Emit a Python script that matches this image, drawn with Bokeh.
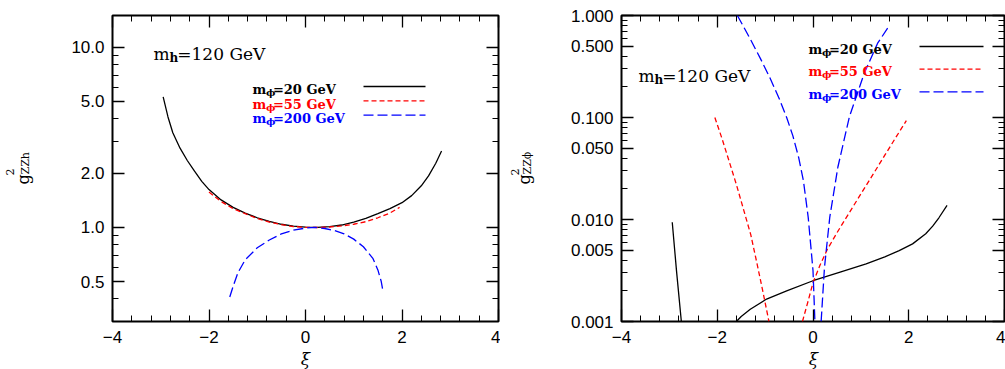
import math
from bokeh.plotting import figure
from bokeh.layouts import row, column
from bokeh.models import (FixedTicker, Label, LinearAxis, LogAxis,
                          CustomJSTickFormatter, PrintfTickFormatter)
from bokeh.embed import file_html
from bokeh.resources import INLINE

# ---------------- data ----------------
# left panel: g^2_ZZh vs xi
xi_zzh_20 = [-2.95, -2.85, -2.75, -2.6, -2.45, -2.3, -2.15, -2.0, -1.75, -1.5, -1.25, -1.0,
             -0.75, -0.5, -0.25, 0.0, 0.25, 0.5, 0.75, 1.0, 1.25, 1.5, 1.75, 2.0, 2.2, 2.4,
             2.55, 2.7, 2.82]
g_zzh_20 = [5.3, 4.1, 3.35, 2.75, 2.35, 2.05, 1.8, 1.62, 1.42, 1.29, 1.2, 1.13,
            1.08, 1.04, 1.015, 1.003, 1.0, 1.01, 1.03, 1.07, 1.12, 1.19, 1.27, 1.37, 1.5, 1.7,
            1.93, 2.27, 2.65]

xi_zzh_55 = [-2.0, -1.75, -1.5, -1.25, -1.0, -0.75, -0.5, -0.25, 0.0, 0.25, 0.5, 0.75, 1.0,
             1.25, 1.5, 1.75, 1.95]
g_zzh_55 = [1.57, 1.39, 1.27, 1.19, 1.12, 1.07, 1.035, 1.01, 1.0, 0.998, 1.004, 1.018, 1.04,
            1.075, 1.13, 1.2, 1.29]

xi_zzh_200 = [-1.57, -1.5, -1.4, -1.25, -1.0, -0.75, -0.5, -0.25, 0.0, 0.2, 0.4, 0.6, 0.8,
              1.0, 1.2, 1.4, 1.5, 1.57, 1.6]
g_zzh_200 = [0.41, 0.47, 0.56, 0.66, 0.77, 0.85, 0.92, 0.965, 0.99, 1.0, 0.985, 0.96, 0.92,
             0.86, 0.78, 0.67, 0.58, 0.5, 0.45]

# right panel: g^2_ZZphi vs xi (each mass has two branches)
xi_zzphi_20a = [-2.94, -2.85, -2.75]
g_zzphi_20a = [0.0094, 0.0031, 0.001]
xi_zzphi_20b = [-1.6, -1.5, -1.31, -0.97, -0.55, 0.0, 0.55, 1.11, 1.5, 1.8, 2.08, 2.355,
                2.5, 2.63, 2.8]
g_zzphi_20b = [0.001, 0.00112, 0.00132, 0.00166, 0.002, 0.00251, 0.00303, 0.00367, 0.0043,
               0.00496, 0.00577, 0.00724, 0.0086, 0.0104, 0.01374]

xi_zzphi_55a = [-2.05, -1.9, -1.75, -1.6, -1.45, -1.3, -1.18, -1.05, -0.92]
g_zzphi_55a = [0.1, 0.062, 0.037, 0.022, 0.0125, 0.0071, 0.0039, 0.002, 0.001]
xi_zzphi_55b = [-0.22, -0.1, 0.0, 0.15, 0.3, 0.5, 0.75, 1.0, 1.25, 1.5, 1.75, 1.95]
g_zzphi_55b = [0.001, 0.0016, 0.0024, 0.0036, 0.0051, 0.0074, 0.0115, 0.0178, 0.0275, 0.0427,
               0.066, 0.093]

xi_zzphi_200a = [-1.58, -1.45, -1.3, -1.1, -0.9, -0.7, -0.55, -0.42, -0.3, -0.2, -0.1, 0.0,
                 0.04]
g_zzphi_200a = [1.0, 0.776, 0.575, 0.38, 0.245, 0.151, 0.1, 0.066, 0.0407, 0.024, 0.0105,
                0.00316, 0.001]
xi_zzphi_200b = [0.17, 0.24, 0.35, 0.52, 0.76, 1.07, 1.35, 1.59]
g_zzphi_200b = [0.001, 0.0034, 0.0105, 0.0327, 0.1016, 0.271, 0.535, 0.79]

mass_labels = ["20", "55", "200"]
series_colors = ["black", "#ff0000", "#0000ff"]
series_dashes = ["solid", "5 3", "10 4"]

x_major = [-4, -2, 0, 2, 4]
x_minor = [-3.6, -3.2, -2.8, -2.4, -1.6, -1.2, -0.8, -0.4, 0.4, 0.8, 1.2, 1.6, 2.4, 2.8, 3.2, 3.6]
yl_major = [0.5, 1.0, 2.0, 5.0, 10.0]
yl_minor = [0.4, 0.6, 0.7, 0.8, 0.9, 3, 4, 6, 7, 8, 9]
yr_major = [0.001, 0.005, 0.01, 0.05, 0.1, 0.5, 1.0]
yr_minor = [0.002, 0.003, 0.004, 0.006, 0.007, 0.008, 0.009,
            0.02, 0.03, 0.04, 0.06, 0.07, 0.08, 0.09,
            0.2, 0.3, 0.4, 0.6, 0.7, 0.8, 0.9]

TICK_FONT = "Liberation Sans"
TEXT_FONT = "DejaVu Serif"
H = 369          # total height
HP = 350         # height of the plotting figures
HB = H - HP      # strip below holding the x-axis title


def mapper(left, right, top, bottom, xr, yr):
    l0, l1 = math.log10(yr[0]), math.log10(yr[1])

    def fx(px):
        return xr[0] + (px - left) / (right - left) * (xr[1] - xr[0])

    def fy(py):
        return 10 ** (l1 - (py - top) / (bottom - top) * (l1 - l0))
    return fx, fy


def style_axis(ax, show):
    ax.axis_line_color = None
    ax.major_tick_in = 12
    ax.major_tick_out = 0
    ax.minor_tick_in = 6
    ax.minor_tick_out = 0
    ax.major_tick_line_color = "black"
    ax.minor_tick_line_color = "black"
    ax.major_tick_line_width = 1.3
    ax.minor_tick_line_width = 1.0
    ax.major_label_text_font = TICK_FONT
    ax.major_label_text_color = "black"
    if show:
        ax.major_label_text_font_size = "17px"
        ax.major_label_standoff = 8
    else:
        ax.major_label_text_font_size = "0px"
        ax.major_label_standoff = 0


def blank(width, height):
    f = figure(width=width, height=height, x_range=(0, width), y_range=(0, height),
               x_axis_type=None, y_axis_type=None, output_backend="svg",
               toolbar_location=None, title=None, min_border=0)
    f.min_border_left = f.min_border_right = f.min_border_top = f.min_border_bottom = 0
    f.outline_line_color = None
    f.grid.visible = False
    return f


def screen_label(f, x, y, text, size, angle=0.0, align="left", baseline="alphabetic",
                 style="normal"):
    f.add_layout(Label(x=x, y=y, x_units="screen", y_units="screen", text=text,
                       text_font=TEXT_FONT, text_font_size=f"{size}px", text_color="black",
                       text_align=align, text_baseline=baseline, angle=angle,
                       angle_units="rad", text_font_style=style))


def make_panel(width, b_left, b_right, y_range, y_major, y_minor, y_fmt):
    p = figure(width=width, height=HP, x_range=(-4, 4), y_range=y_range, y_axis_type="log",
               output_backend="svg", toolbar_location=None, title=None,
               min_border_left=b_left, min_border_right=b_right,
               min_border_top=15, min_border_bottom=HP - 321)
    p.grid.visible = False
    p.outline_line_color = "black"
    p.outline_line_width = 2
    p.outline_line_alpha = 1.0
    xt = FixedTicker(ticks=x_major, minor_ticks=x_minor)
    yt = FixedTicker(ticks=y_major, minor_ticks=y_minor)
    xa = p.xaxis[0]
    ya = p.yaxis[0]
    xa.ticker = xt
    ya.ticker = yt
    xa.formatter = CustomJSTickFormatter(
        code="return tick < 0 ? '\u2212' + String(-tick) : String(tick);")
    ya.formatter = PrintfTickFormatter(format=y_fmt)
    style_axis(xa, True)
    style_axis(ya, True)
    xa.major_label_standoff = 9
    top = LinearAxis(ticker=xt, formatter=CustomJSTickFormatter(code="return '';"))
    right = LogAxis(ticker=yt, formatter=CustomJSTickFormatter(code="return '';"))
    style_axis(top, False)
    style_axis(right, False)
    p.add_layout(top, "above")
    p.add_layout(right, "right")
    return p


def xi_strip(width, xc):
    # this strip's frame is aligned with the panel's frame above it (column layout),
    # so xc is measured from the panel frame's left edge
    b = blank(width, HB)
    screen_label(b, xc, HB - 8, "\u03be", 17, align="center", baseline="middle",
                 style="italic")
    return b


def put(p, fx, fy, px, py, text, size, color="black", style="normal"):
    p.add_layout(Label(x=fx(px), y=fy(py), text=text, text_font=TEXT_FONT,
                       text_font_size=f"{size}px", text_color=color, text_align="left",
                       text_baseline="alphabetic", text_font_style=style))


def sub_label(p, fx, fy, x0, base, sub, rest, size, subsize, m_w, sub_w, color, style):
    put(p, fx, fy, x0, base, "m", size, color, style)
    xs = x0 + m_w
    put(p, fx, fy, xs, base + 0.25 * size, sub, subsize, color, style="bold")
    put(p, fx, fy, xs + sub_w, base, rest, size, color, style)


def title_strip(width, xg, xsup, xsub, sub):
    """Narrow figure holding the rotated y-axis title g^2_sub (screen pixels)."""
    t = blank(width, H)
    a = math.pi / 2
    screen_label(t, xg, H - 184, "g", 16, angle=a)
    screen_label(t, xsup, H - 175, "2", 11, angle=a)
    screen_label(t, xsub, H - 174, sub, 11, angle=a)
    return t


# ---------------- left panel ----------------
t1 = title_strip(45, 23, 9, 25, "ZZh")
p1 = make_panel(455, 67, 2, (0.3, 15), yl_major, yl_minor, "%.1f")
fx1, fy1 = mapper(112, 498, 15, 321, (-4, 4), (0.3, 15))

left_x = [xi_zzh_20, xi_zzh_55, xi_zzh_200]
left_y = [g_zzh_20, g_zzh_55, g_zzh_200]
for xs, ys, c, d in zip(left_x, left_y, series_colors, series_dashes):
    p1.line(xs, ys, line_color=c, line_width=1.3, line_dash=d)

sub_label(p1, fx1, fy1, 153, 53, "h", "=120 GeV", 17, 12, 16.1, 7.7, "black", "normal")
for i, (m, c, d) in enumerate(zip(mass_labels, series_colors, series_dashes)):
    base = 89 + 14.5 * i
    sub_label(p1, fx1, fy1, 252, base, "\u03d5", f"={m} GeV", 13, 10, 13.4, 7.0, c, "bold")
    ly = 86 + 14.3 * i
    p1.line([fx1(363), fx1(425)], [fy1(ly), fy1(ly)], line_color=c, line_width=1.3, line_dash=d)
b1 = xi_strip(455, 305 - 112)

# ---------------- right panel ----------------
t2 = title_strip(40, 24, 14, 27, "ZZ\u03d5")
p2 = make_panel(465, 81, 1, (0.001, 1.0), yr_major, yr_minor, "%.3f")
fx2, fy2 = mapper(621, 1004, 15, 321, (-4, 4), (0.001, 1.0))

right_x = [[xi_zzphi_20a, xi_zzphi_20b], [xi_zzphi_55a, xi_zzphi_55b],
           [xi_zzphi_200a, xi_zzphi_200b]]
right_y = [[g_zzphi_20a, g_zzphi_20b], [g_zzphi_55a, g_zzphi_55b],
           [g_zzphi_200a, g_zzphi_200b]]
for xss, yss, c, d in zip(right_x, right_y, series_colors, series_dashes):
    for xs, ys in zip(xss, yss):
        p2.line(xs, ys, line_color=c, line_width=1.3, line_dash=d)

sub_label(p2, fx2, fy2, 638, 75, "h", "=120 GeV", 17, 12, 16.1, 7.7, "black", "normal")
for i, (m, c, d) in enumerate(zip(mass_labels, series_colors, series_dashes)):
    base = 48.5 + 22.7 * i
    sub_label(p2, fx2, fy2, 808, base, "\u03d5", f"={m} GeV", 13, 10, 13.4, 7.0, c, "bold")
    ly = 46 + 22.7 * i
    p2.line([fx2(919), fx2(983)], [fy2(ly), fy2(ly)], line_color=c, line_width=1.3, line_dash=d)
b2 = xi_strip(465, 813 - 621)

layout = row(t1, column(p1, b1), t2, column(p2, b2))
open("out.html", "w").write(file_html(layout, INLINE))
